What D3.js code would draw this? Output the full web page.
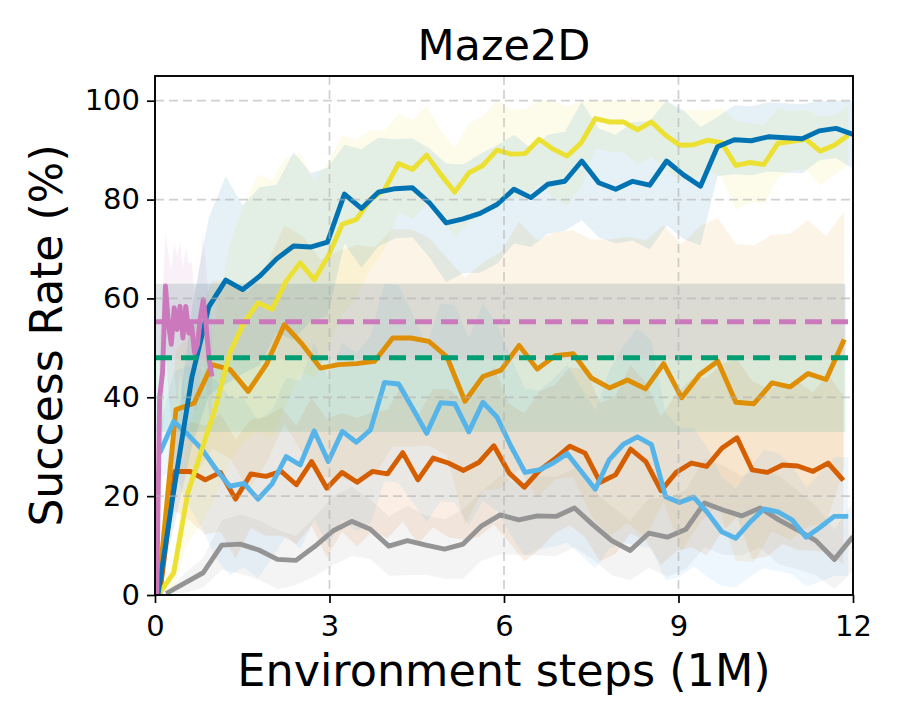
<!DOCTYPE html>
<html>
<head>
<meta charset="utf-8">
<script src="https://cdn.jsdelivr.net/npm/d3@7"></script>
<style>
  body { margin: 0; background: #fff; }
  text { font-family: "DejaVu Sans", sans-serif; fill: #000; }
</style>
</head>
<body>
<div id="chart"></div>
<script>
// ---- data ----
const xTicks = [0, 3, 6, 9, 12];
const yTicks = [0, 20, 40, 60, 80, 100];

// each run is logged on its own grid: x = x0 + k * step  (1M env steps)
const blueX0 = 0.05, blueStep = 0.2915;
const blueMean = [0, 22.5, 44, 58.3, 63.7, 61.8, 64.5, 68.0, 70.6, 70.4, 71.4, 81.1, 78.2, 81.5, 82.2, 82.4, 79.4, 75.3, 76.1, 77.2,
  79.0, 82.1, 80.4, 83.1, 83.7, 87.8, 83.4, 82.1, 83.7, 82.9, 87.8, 85.0, 82.7, 90.7, 92.1, 91.9, 92.7, 92.5, 92.3, 93.9, 94.4, 93.2];
const blueStd = [0, 8, 14, 18, 21, 17, 18, 15, 19, 15, 15, 10, 12, 11, 10, 10, 11, 12, 11, 12,
  12, 11, 10, 10, 10, 12, 11, 11, 12, 13, 13, 13, 12, 6, 7, 7, 7, 7, 7, 6, 6, 7];

const yellowX0 = 0.08, yellowStep = 0.2416;
const yellowMean = [0.4, 4.5, 20.6, 29.4, 38.2, 49.0, 55.1, 59.1, 57.8, 63.5, 67.2, 63.8, 68.6, 75.0, 76.0, 80.0, 82.0, 87.3, 86.1, 89.0,
  85.1, 81.5, 85.4, 86.9, 90.0, 89.2, 89.3, 92.2, 90.2, 88.8, 91.5, 96.4, 95.7, 95.7, 94.1, 95.7, 93.0, 91.0, 91.1, 92.0,
  91.5, 86.9, 87.5, 87.1, 91.4, 91.8, 92.2, 89.8, 91.0, 93.0];
const yellowStd = [0, 3, 10, 15, 18, 22, 24, 26, 26, 25, 22, 20, 19, 18, 16, 14, 12, 10, 10, 10,
  9, 9, 10, 10, 10, 9, 9, 9, 10, 10, 9, 6, 6, 6, 7, 7, 7, 7, 7, 6,
  7, 9, 8, 8, 7, 6, 6, 7, 6, 6];

const orangeX0 = 0.05, orangeStep = 0.3105;
const orangeMean = [0, 37.5, 38.8, 46.6, 45.6, 41.2, 46.6, 54.7, 50.7, 45.9, 46.6, 46.8, 47.3, 52.0, 52.0, 51.3, 48.2, 39.2, 44.2, 45.5,
  50.5, 45.7, 48.4, 48.8, 43.9, 41.9, 43.5, 41.7, 46.8, 39.9, 44.6, 47.3, 39.0, 38.7, 42.9, 42.1, 44.8, 43.6, 51.7];
const orangeStd = [0, 12, 15, 17, 18, 20, 20, 20, 22, 22, 23, 24, 23, 22, 22, 21, 20, 25, 23, 24,
  25, 26, 25, 25, 28, 30, 29, 30, 28, 31, 30, 29, 32, 32, 30, 31, 31, 29, 26];

const redX0 = 0.08, redStep = 0.2612;
const redMean = [0, 25.0, 25.0, 23.3, 24.8, 19.4, 24.5, 24.0, 25.0, 22.3, 27.0, 21.6, 24.8, 22.8, 25.0, 24.5, 28.8, 23.3, 27.7, 26.7,
  25.2, 26.8, 30.2, 24.7, 21.8, 25.2, 27.5, 30.1, 28.7, 22.8, 24.3, 29.5, 27.0, 21.1, 24.8, 26.7, 26.0, 29.7, 31.8, 25.3,
  24.8, 26.3, 26.1, 25.0, 26.7, 23.2];
const redStd = [0, 8, 10, 11, 12, 12, 11, 12, 13, 12, 13, 14, 12, 13, 12, 13, 14, 13, 14, 15,
  14, 15, 16, 14, 15, 16, 15, 16, 17, 16, 16, 17, 16, 15, 16, 17, 18, 17, 16, 18,
  17, 16, 17, 16, 18, 17];

const skyX0 = 0.08, skyStep = 0.2416;
const skyMean = [28.7, 35.1, 32.5, 29.5, 25.5, 22.0, 22.6, 19.4, 22.5, 28.0, 26.3, 33.2, 27.0, 33.1, 30.9, 33.4, 43.0, 42.7, 37.8, 32.7,
  38.9, 38.7, 33.0, 39.0, 36.0, 30.1, 24.8, 25.3, 26.7, 28.6, 25.0, 21.4, 27.4, 30.5, 32.0, 30.4, 19.9, 18.7, 19.8, 16.6,
  12.8, 11.5, 14.7, 17.4, 16.8, 15.2, 11.7, 13.7, 15.9, 15.9];
const skyStd = [5, 10, 14, 16, 18, 18, 17, 16, 15, 16, 17, 18, 17, 18, 18, 19, 20, 20, 19, 18,
  20, 20, 19, 20, 19, 18, 17, 16, 17, 18, 17, 16, 18, 20, 22, 21, 17, 15, 14, 13,
  11, 10, 11, 12, 12, 11, 10, 11, 12, 12];

const grayX0 = 0.19, grayStep = 0.3192;
const grayMean = [0.3, 2.4, 4.5, 10.1, 10.3, 9.1, 7.2, 7.0, 9.8, 13.0, 14.9, 13.3, 9.9, 11.0, 10.1, 9.3, 10.3, 14.0, 16.2, 15.2,
  16.0, 15.9, 17.6, 14.2, 11.0, 9.0, 12.5, 11.7, 13.3, 18.6, 17.2, 16.0, 17.6, 15.2, 13.2, 11.0, 7.2, 11.8];
const grayStd = [0, 2, 3, 5, 6, 6, 6, 5, 6, 7, 7, 6, 6, 7, 6, 6, 7, 7, 8, 7,
  8, 8, 8, 7, 7, 6, 7, 8, 8, 9, 9, 8, 8, 9, 8, 7, 6, 7];

const pinkX0 = 0.03, pinkStep = 0.05;
const pinkMean = [0, 40, 45, 62.5, 55, 50.7, 58.1, 53.7, 58.4, 52.0, 58.4, 53.0, 54.4, 49.0, 50.7, 56.0, 59.8, 54.4, 47.6, 44.2];
const pinkStd = [0, 12, 15, 11, 14, 15, 13, 15, 13, 14, 12, 14, 13, 12, 13, 12, 13, 12, 11, 10];

// offline baselines (dashed) with their spread
const greenLevel = 48.0, greenSpread = 15.0;
const pinkLevel = 55.3, pinkSpread = 7.6;
const baselineBandEnd = 11.87;

// ---- drawing ----
const W = 900, H = 720;
const margin = {top: 76, right: 47, bottom: 125, left: 155},
    width = W - margin.left - margin.right,
    height = H - margin.top - margin.bottom;

const svg = d3.select("#chart")
    .append("svg")
    .attr("width", W)
    .attr("height", H)
    .style("background", "#fff");

const g = svg.append("g")
    .attr("transform", `translate(${margin.left},${margin.top})`);

const x = d3.scaleLinear().domain([0, 12]).range([0, width]);
const y = d3.scaleLinear().domain([0, 105]).range([height, 0]);

g.append("clipPath").attr("id", "plot")
  .append("rect").attr("width", width).attr("height", height);

const series = [
  {x0: grayX0, step: grayStep, mean: grayMean, std: grayStd, color: "#949494"},
  {x0: redX0, step: redStep, mean: redMean, std: redStd, color: "#d55e00"},
  {x0: orangeX0, step: orangeStep, mean: orangeMean, std: orangeStd, color: "#de8f05"},
  {x0: skyX0, step: skyStep, mean: skyMean, std: skyStd, color: "#56b4e9"},
  {x0: yellowX0, step: yellowStep, mean: yellowMean, std: yellowStd, color: "#ece133"},
  {x0: blueX0, step: blueStep, mean: blueMean, std: blueStd, color: "#0173b2"},
  {x0: pinkX0, step: pinkStep, mean: pinkMean, std: pinkStd, color: "#cc78bc"}
];

function rows(s) {
  return s.mean.map((m, i) => ({
    x: s.x0 + i * s.step,
    m: m,
    lo: Math.max(0, m - s.std[i]),
    hi: Math.min(100, m + s.std[i])
  }));
}

const plot = g.append("g").attr("clip-path", "url(#plot)");

// spread bands of the runs
const area = d3.area().x(d => x(d.x)).y0(d => y(d.lo)).y1(d => y(d.hi));
series.forEach(s => {
  plot.append("path")
    .datum(rows(s))
    .attr("d", area)
    .attr("fill", s.color)
    .attr("fill-opacity", 0.1);
});

// spread bands of the baselines
[[greenLevel, greenSpread, "#029e73"], [pinkLevel, pinkSpread, "#cc78bc"]].forEach(b => {
  plot.append("rect")
    .attr("x", x(0))
    .attr("width", x(baselineBandEnd) - x(0))
    .attr("y", y(b[0] + b[1]))
    .attr("height", y(b[0] - b[1]) - y(b[0] + b[1]))
    .attr("fill", b[2])
    .attr("fill-opacity", 0.12);
});

// grid
const grid = g.append("g");
grid.selectAll(".gx").data(xTicks).join("line")
    .attr("x1", d => x(d)).attr("x2", d => x(d))
    .attr("y1", 0).attr("y2", height);
grid.selectAll(".gy").data(yTicks).join("line")
    .attr("x1", 0).attr("x2", width)
    .attr("y1", d => y(d)).attr("y2", d => y(d));
grid.selectAll("line")
    .attr("stroke", "#b0b0b0")
    .attr("stroke-opacity", 0.6)
    .attr("stroke-width", 1.7)
    .attr("stroke-dasharray", "9,5");

// mean curves
const line = d3.line().x(d => x(d.x)).y(d => y(d.m));
series.forEach(s => {
  plot.append("path")
    .datum(rows(s))
    .attr("d", line)
    .attr("fill", "none")
    .attr("stroke", s.color)
    .attr("stroke-width", 4.9)
    .attr("stroke-linejoin", "round")
    .attr("stroke-linecap", "butt");
});

// dashed baselines
[[greenLevel, "#029e73"], [pinkLevel, "#cc78bc"]].forEach(b => {
  plot.append("line")
    .attr("x1", 0).attr("x2", width)
    .attr("y1", y(b[0])).attr("y2", y(b[0]))
    .attr("stroke", b[1])
    .attr("stroke-width", 5)
    .attr("stroke-dasharray", "17,9");
});

// axes
const xAxis = g.append("g")
    .attr("transform", `translate(0,${height})`)
    .call(d3.axisBottom(x).tickValues(xTicks).tickSize(8).tickPadding(12));
const yAxis = g.append("g")
    .call(d3.axisLeft(y).tickValues(yTicks).tickSize(8).tickPadding(7));
[xAxis, yAxis].forEach(a => {
  a.select(".domain").remove();
  a.selectAll(".tick line").attr("stroke", "#000").attr("stroke-width", 1.7);
  a.selectAll(".tick text")
    .attr("font-size", 29)
    .attr("font-family", "DejaVu Sans, sans-serif")
    .attr("fill", "#000");
});

// frame
g.append("rect")
    .attr("width", width).attr("height", height)
    .attr("fill", "none")
    .attr("stroke", "#000")
    .attr("stroke-width", 1.9);

// texts
svg.append("text")
    .attr("x", margin.left + width / 2).attr("y", 60)
    .attr("text-anchor", "middle")
    .attr("font-size", 43)
    .text("Maze2D");

svg.append("text")
    .attr("x", margin.left + width / 2).attr("y", 686)
    .attr("text-anchor", "middle")
    .attr("font-size", 44.5)
    .text("Environment steps (1M)");

svg.append("text")
    .attr("transform", `translate(62,${margin.top + height / 2}) rotate(-90)`)
    .attr("text-anchor", "middle")
    .attr("font-size", 44)
    .text("Success Rate (%)");
</script>
</body>
</html>
